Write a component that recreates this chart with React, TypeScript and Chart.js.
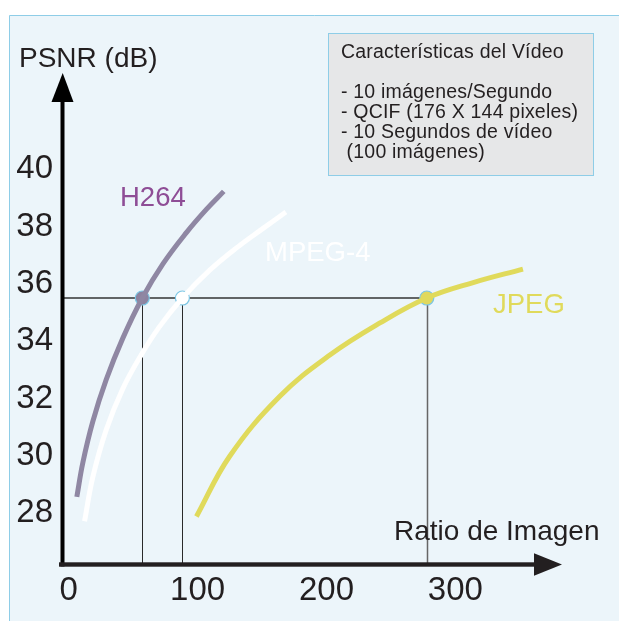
import React, { useEffect, useRef } from 'react';
import { Chart, registerables } from 'chart.js';

Chart.register(...registerables);

// Rate–distortion curves (x = Ratio de Imagen, y = PSNR dB)
const H264_X = [6.3, 11.0, 18.7, 29.1, 42.0, 57.1, 73.1, 91.3, 106.8, 120.3];
const H264_Y = [28.46, 29.66, 31.09, 32.55, 34.0, 35.4, 36.59, 37.68, 38.49, 39.12];
const MPEG4_X = [12.3, 18.7, 29.1, 42.0, 56.3, 70.6, 88.2, 109.4, 130.2, 150.8, 168.5];
const MPEG4_Y = [27.61, 29.15, 30.8, 32.24, 33.42, 34.41, 35.4, 36.37, 37.15, 37.83, 38.4];
const JPEG_X = [99.1, 124.9, 163.8, 202.6, 241.5, 277.8, 313.8, 352.4];
const JPEG_Y = [27.78, 29.88, 31.97, 33.41, 34.53, 35.4, 35.94, 36.41];

// Equal-quality markers: H264, MPEG-4, JPEG
const MARK_X = [57.1, 88.2, 277.8];
const MARK_PSNR = 35.4;

const SERIES = ['H264', 'MPEG-4', 'JPEG'];
const Y_TICKS = [28, 30, 32, 34, 36, 38, 40];
const X_TICKS = [0, 100, 200, 300];
const Y_TITLE = 'PSNR (dB)';
const X_TITLE = 'Ratio de Imagen';
const INFO_LINES = [
  'Características del Vídeo',
  '',
  '- 10 imágenes/Segundo',
  '- QCIF (176 X 144 pixeles)',
  '- 10 Segundos de vídeo',
  ' (100 imágenes)',
];

const FONT = "'Liberation Sans', Arial, Helvetica, sans-serif";
const TEXT = '#231F20';
const LINE_COLORS = ['#8F87A3', '#FFFFFF', '#E0DA5B'];
const LABEL_COLORS = ['#8E4D96', '#FFFFFF', '#E0DA5B'];

const zip = (xs: number[], ys: number[]) => xs.map((x, i) => ({ x, y: ys[i] }));

const decorPlugin = {
  id: 'decor',
  beforeDraw(chart: any) {
    const { ctx, width, height } = chart;
    ctx.save();
    ctx.fillStyle = '#FFFFFF';
    ctx.fillRect(0, 0, width, height);
    ctx.fillStyle = '#ECF5FA';
    ctx.fillRect(9.5, 15.5, width, height);
    ctx.strokeStyle = '#8ECDE7';
    ctx.lineWidth = 1;
    ctx.beginPath();
    ctx.moveTo(9.5, height);
    ctx.lineTo(9.5, 15.5);
    ctx.lineTo(width, 15.5);
    ctx.stroke();
    ctx.restore();
  },
  beforeDatasetsDraw(chart: any) {
    const { ctx, chartArea: ca, scales } = chart;
    const xs = scales.x;
    const ys = scales.y;
    const yp = ys.getPixelForValue(MARK_PSNR);
    ctx.save();
    ctx.strokeStyle = '#333333';
    ctx.lineWidth = 1.3;
    ctx.beginPath();
    ctx.moveTo(ca.left, yp);
    ctx.lineTo(xs.getPixelForValue(MARK_X[2]), yp);
    ctx.stroke();
    MARK_X.forEach((mx, i) => {
      const px = Math.round(xs.getPixelForValue(mx)) + 0.5;
      ctx.strokeStyle = i === 2 ? '#666666' : '#2A2A2A';
      ctx.lineWidth = i === 2 ? 1.5 : 1;
      ctx.beginPath();
      ctx.moveTo(px, yp);
      ctx.lineTo(px, ca.bottom);
      ctx.stroke();
    });
    ctx.restore();
  },
  afterDraw(chart: any) {
    const { ctx, chartArea: ca } = chart;
    ctx.save();
    // axes with arrows
    const ax = ca.left + 0.5;
    const ay = ca.bottom + 0.5;
    ctx.fillStyle = '#000000';
    ctx.fillRect(ax - 2, ca.top + 25, 4, ay - ca.top - 23);
    ctx.beginPath();
    ctx.moveTo(ax + 0.2, ca.top);
    ctx.lineTo(ax - 11, ca.top + 29);
    ctx.lineTo(ax + 11, ca.top + 29);
    ctx.closePath();
    ctx.fill();
    ctx.fillStyle = TEXT;
    ctx.fillRect(ax - 3.5, ay - 2.2, ca.right - 25 - ax + 3.5, 4.4);
    ctx.beginPath();
    ctx.moveTo(ca.right, ay);
    ctx.lineTo(ca.right - 28, ay - 11.2);
    ctx.lineTo(ca.right - 28, ay + 11.2);
    ctx.closePath();
    ctx.fill();

    // axis titles
    ctx.fillStyle = TEXT;
    ctx.textBaseline = 'alphabetic';
    ctx.textAlign = 'left';
    ctx.font = `28px ${FONT}`;
    ctx.fillText(Y_TITLE, 19, 67);
    ctx.fillText(X_TITLE, 394, 540);

    // curve labels
    ctx.font = `27.5px ${FONT}`;
    const labelPos = [
      { x: 120, y: 206 },
      { x: 265, y: 261 },
      { x: 493, y: 313 },
    ];
    SERIES.forEach((s, i) => {
      ctx.fillStyle = LABEL_COLORS[i];
      ctx.fillText(s, labelPos[i].x, labelPos[i].y);
    });

    // info box
    ctx.fillStyle = '#E6E7E8';
    ctx.fillRect(328.5, 33.5, 265, 142);
    ctx.strokeStyle = '#8ECDE7';
    ctx.lineWidth = 1;
    ctx.strokeRect(328.5, 33.5, 265, 142);
    ctx.fillStyle = TEXT;
    ctx.font = `19.5px ${FONT}`;
    try {
      (ctx as any).letterSpacing = '0.2px';
    } catch (e) {
      /* ignore */
    }
    let yy = 57.5;
    INFO_LINES.forEach((ln, i) => {
      if (ln) ctx.fillText(ln, 341, yy);
      yy += i === 0 ? 20.3 : 20.1;
    });
    ctx.restore();
  },
};

export default function App() {
  const ref = useRef<HTMLCanvasElement | null>(null);
  useEffect(() => {
    if (!ref.current) return;
    const markerDs = MARK_X.map((mx, i) => ({
      type: 'scatter' as const,
      label: SERIES[i] + ' punto',
      data: [{ x: mx, y: MARK_PSNR }],
      pointRadius: 7,
      pointBorderWidth: 1.2,
      pointBackgroundColor: i === 0 ? '#8D83A0' : i === 1 ? '#FFFFFF' : '#E0D85E',
      pointBorderColor: '#7CC6E4',
      showLine: false,
    }));
    const curves = [zip(H264_X, H264_Y), zip(MPEG4_X, MPEG4_Y), zip(JPEG_X, JPEG_Y)];
    const lineDs = curves.map((d, i) => ({
      type: 'line' as const,
      label: SERIES[i],
      data: d,
      borderColor: LINE_COLORS[i],
      borderWidth: 5,
      pointRadius: 0,
      fill: false,
      tension: 0.4,
      borderCapStyle: 'butt' as const,
    }));
    const chart = new Chart(ref.current, {
      type: 'line',
      data: { datasets: [...lineDs, ...markerDs] as any },
      options: {
        animation: false,
        responsive: false,
        events: [],
        layout: { padding: { top: 73, right: 57, left: 0, bottom: 0 } },
        plugins: { legend: { display: false }, tooltip: { enabled: false } },
        scales: {
          x: {
            type: 'linear',
            min: -5.2,
            max: 382.7,
            grid: { display: false, drawTicks: false },
            border: { display: false },
            afterBuildTicks: (s: any) => {
              s.ticks = X_TICKS.map((v) => ({ value: v }));
            },
            afterFit: (s: any) => {
              s.height = 57;
            },
            ticks: {
              autoSkip: false,
              maxRotation: 0,
              padding: 7,
              color: TEXT,
              font: { family: FONT, size: 33 },
              callback: (v: any) => String(v),
            },
          },
          y: {
            type: 'linear',
            min: 26.12,
            max: 43.25,
            grid: { display: false, drawTicks: false },
            border: { display: false },
            afterBuildTicks: (s: any) => {
              s.ticks = Y_TICKS.map((v) => ({ value: v }));
            },
            afterFit: (s: any) => {
              s.width = 62;
            },
            ticks: {
              autoSkip: false,
              padding: 9,
              labelOffset: 3,
              color: TEXT,
              font: { family: FONT, size: 33 },
              callback: (v: any) => String(v),
            },
          },
        },
      },
      plugins: [decorPlugin],
    });
    return () => chart.destroy();
  }, []);
  return (
    <div style={{ position: 'fixed', left: 0, top: 0, width: 619, height: 621 }}>
      <canvas ref={ref} width={619} height={621} style={{ width: 619, height: 621, display: 'block' }} />
    </div>
  );
}
